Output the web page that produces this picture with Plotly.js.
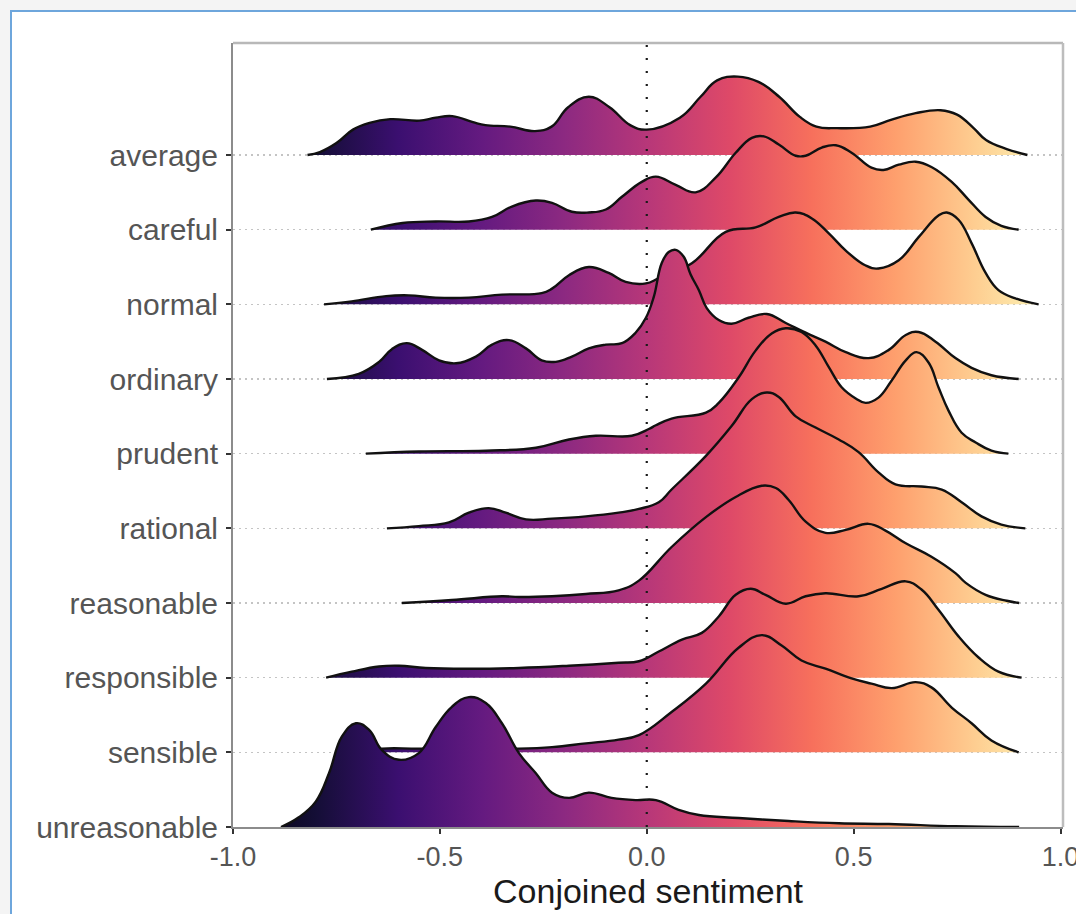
<!DOCTYPE html>
<html>
<head>
<meta charset="utf-8">
<script src="https://cdn.plot.ly/plotly-3.0.1.min.js"></script>
<style>
  html, body { margin: 0; padding: 0; background: #f4f4f4; width: 1076px; height: 914px; overflow: hidden; }
  #frame { position: absolute; left: 10px; top: 10px; width: 1064px; height: 902px;
           border-left: 2px solid #6ea6dc; border-top: 2px solid #6ea6dc; background: #ffffff; overflow: hidden; }
  #chart { width: 1064px; height: 902px; }
</style>
</head>
<body>
<div id="frame"><div id="chart"></div></div>
<script>
// Categories, top to bottom
const categories = ['average','careful','normal','ordinary','prudent','rational','reasonable','responsible','sensible','unreasonable'];

// Ridge density heights (in ridge-row units) at x positions
const averageX = [-0.82,-0.79,-0.75,-0.71,-0.67,-0.62,-0.55,-0.51,-0.47,-0.42,-0.39,-0.33,-0.27,-0.23,-0.19,-0.14,-0.09,-0.04,0.00,0.08,0.13,0.17,0.22,0.27,0.32,0.37,0.41,0.46,0.54,0.59,0.65,0.71,0.75,0.79,0.82,0.87,0.92];
const averageH = [0,0.04,0.16,0.34,0.43,0.48,0.46,0.50,0.52,0.44,0.40,0.38,0.32,0.38,0.64,0.78,0.64,0.40,0.34,0.50,0.78,1.00,1.05,0.98,0.78,0.51,0.38,0.36,0.38,0.47,0.56,0.60,0.54,0.36,0.20,0.08,0];

const carefulX = [-0.667,-0.59,-0.51,-0.43,-0.374,-0.326,-0.268,-0.229,-0.181,-0.14,-0.099,-0.06,-0.012,0.022,0.07,0.118,0.167,0.215,0.254,0.283,0.319,0.36,0.384,0.423,0.457,0.495,0.543,0.572,0.609,0.65,0.688,0.737,0.778,0.819,0.857,0.899];
const carefulH = [0,0.09,0.11,0.11,0.17,0.31,0.39,0.36,0.24,0.23,0.27,0.44,0.64,0.71,0.60,0.50,0.70,1.03,1.23,1.25,1.14,0.99,0.99,1.10,1.13,1.03,0.83,0.80,0.87,0.91,0.84,0.64,0.40,0.17,0.05,0];

const normalX = [-0.78,-0.713,-0.63,-0.575,-0.51,-0.43,-0.35,-0.254,-0.229,-0.188,-0.14,-0.092,-0.051,-0.002,0.029,0.109,0.191,0.263,0.319,0.36,0.399,0.44,0.481,0.529,0.56,0.609,0.657,0.705,0.725,0.754,0.785,0.819,0.85,0.891,0.947];
const normalH = [0,0.04,0.11,0.12,0.09,0.09,0.13,0.15,0.21,0.39,0.50,0.42,0.30,0.28,0.35,0.55,0.97,1.03,1.17,1.23,1.15,0.95,0.72,0.52,0.48,0.59,0.90,1.19,1.23,1.13,0.82,0.42,0.19,0.08,0];

const ordinaryX = [-0.773,-0.696,-0.647,-0.616,-0.58,-0.543,-0.502,-0.461,-0.413,-0.374,-0.333,-0.292,-0.254,-0.22,-0.181,-0.14,-0.099,-0.06,-0.027,-0.002,0.017,0.036,0.053,0.07,0.089,0.106,0.126,0.145,0.174,0.205,0.246,0.29,0.336,0.384,0.432,0.481,0.536,0.585,0.626,0.657,0.698,0.746,0.785,0.833,0.899];
const ordinaryH = [0,0.07,0.23,0.40,0.48,0.39,0.25,0.21,0.30,0.46,0.52,0.41,0.25,0.23,0.30,0.41,0.46,0.48,0.62,0.82,1.10,1.55,1.70,1.73,1.64,1.40,1.19,0.95,0.79,0.74,0.82,0.87,0.75,0.62,0.50,0.36,0.28,0.39,0.59,0.63,0.50,0.28,0.15,0.05,0];

const prudentX = [-0.679,-0.551,-0.389,-0.268,-0.188,-0.123,-0.036,0.005,0.022,0.06,0.143,0.174,0.222,0.263,0.302,0.336,0.374,0.408,0.44,0.471,0.505,0.529,0.56,0.592,0.626,0.652,0.681,0.705,0.729,0.761,0.795,0.833,0.874];
const prudentH = [0,0.03,0.04,0.08,0.19,0.24,0.24,0.33,0.38,0.47,0.55,0.68,1.02,1.38,1.61,1.68,1.63,1.45,1.16,0.89,0.74,0.68,0.75,0.98,1.25,1.36,1.22,0.89,0.58,0.28,0.15,0.04,0];

const rationalX = [-0.628,-0.551,-0.478,-0.43,-0.382,-0.341,-0.292,-0.229,-0.147,-0.068,-0.019,0.029,0.06,0.143,0.205,0.254,0.29,0.319,0.36,0.408,0.464,0.512,0.56,0.601,0.664,0.713,0.761,0.809,0.857,0.915];
const rationalH = [0,0.03,0.08,0.21,0.27,0.21,0.12,0.13,0.16,0.21,0.26,0.35,0.52,0.97,1.37,1.73,1.82,1.76,1.50,1.35,1.19,1.02,0.75,0.59,0.56,0.52,0.35,0.16,0.05,0];

const reasonableX = [-0.592,-0.471,-0.35,-0.309,-0.229,-0.147,-0.068,-0.019,0.06,0.143,0.215,0.278,0.312,0.343,0.384,0.432,0.481,0.536,0.577,0.626,0.688,0.746,0.771,0.819,0.87,0.90];
const reasonableH = [0,0.04,0.09,0.08,0.09,0.12,0.17,0.30,0.75,1.15,1.42,1.57,1.54,1.38,1.09,0.94,0.98,1.06,0.97,0.80,0.62,0.40,0.27,0.11,0.03,0];

const responsibleX = [-0.775,-0.713,-0.647,-0.599,-0.534,-0.43,-0.309,-0.188,-0.068,-0.019,0.029,0.085,0.133,0.174,0.215,0.251,0.287,0.336,0.384,0.432,0.512,0.568,0.626,0.664,0.705,0.754,0.802,0.85,0.906];
const responsibleH = [0,0.08,0.15,0.16,0.13,0.12,0.13,0.16,0.20,0.22,0.35,0.51,0.60,0.82,1.11,1.19,1.11,0.99,1.09,1.13,1.09,1.19,1.29,1.18,0.91,0.55,0.27,0.08,0];

const sensibleX = [-0.70,-0.64,-0.551,-0.309,-0.229,-0.147,-0.068,-0.019,0.06,0.143,0.222,0.278,0.326,0.374,0.432,0.495,0.543,0.592,0.65,0.688,0.737,0.785,0.833,0.899];
const sensibleH = [0,0.05,0.05,0.05,0.07,0.12,0.17,0.23,0.54,0.92,1.40,1.57,1.43,1.23,1.12,0.99,0.92,0.86,0.94,0.87,0.60,0.39,0.16,0];

const unreasonableX = [-0.884,-0.841,-0.80,-0.768,-0.737,-0.703,-0.671,-0.64,-0.599,-0.551,-0.51,-0.471,-0.43,-0.389,-0.35,-0.309,-0.268,-0.229,-0.188,-0.14,-0.085,-0.027,0.022,0.077,0.126,0.222,0.343,0.464,0.585,0.746,0.90];
const unreasonableH = [0,0.13,0.34,0.72,1.21,1.39,1.30,1.03,0.90,0.99,1.34,1.61,1.74,1.66,1.39,0.99,0.72,0.46,0.39,0.46,0.39,0.36,0.36,0.23,0.16,0.12,0.08,0.05,0.04,0.01,0];

const xTickVals = [-1, -0.5, 0, 0.5, 1];
const xTickText = ['-1.0', '-0.5', '0.0', '0.5', '1.0'];

const ridgeX = [averageX, carefulX, normalX, ordinaryX, prudentX, rationalX, reasonableX, responsibleX, sensibleX, unreasonableX];
const ridgeH = [averageH, carefulH, normalH, ordinaryH, prudentH, rationalH, reasonableH, responsibleH, sensibleH, unreasonableH];

const magma = [
  [0.0, '#000004'], [0.1, '#140E36'], [0.2, '#3B0F70'], [0.3, '#641A80'],
  [0.4, '#8C2981'], [0.5, '#B73779'], [0.6, '#DE4968'], [0.7, '#F7705C'],
  [0.8, '#FE9F6D'], [0.9, '#FECF92'], [1.0, '#FCFDBF']
];

const n = categories.length;
const traces = categories.map((cat, i) => {
  const base = n - 1 - i;
  return {
    type: 'scatter',
    mode: 'lines',
    name: cat,
    x: ridgeX[i],
    y: ridgeH[i].map(h => base + h),
    fill: 'toself',
    fillgradient: { type: 'horizontal', colorscale: magma, start: -1.0, stop: 1.0 },
    line: { color: '#111111', width: 2.4, shape: 'spline', smoothing: 1.2 },
    hoverinfo: 'skip',
    showlegend: false
  };
});

const layout = {
  width: 1064, height: 902,
  margin: { l: 221, r: 13, t: 31, b: 87 },
  paper_bgcolor: '#ffffff',
  plot_bgcolor: '#ffffff',
  font: { family: 'Liberation Sans, Arial, sans-serif' },
  xaxis: {
    range: [-1, 1.006],
    tickvals: xTickVals, ticktext: xTickText,
    ticks: 'outside', ticklen: 5, tickwidth: 2, tickcolor: '#333333',
    tickfont: { size: 27, color: '#555555' },
    ticklabeloverflow: 'allow',
    showgrid: false, zeroline: false,
    showline: true, linecolor: '#8c8c8c', linewidth: 2,
    title: { text: 'Conjoined sentiment', font: { size: 34, color: '#1a1a1a' }, standoff: 4 },
    fixedrange: true
  },
  yaxis: {
    range: [0, 10.5],
    tickvals: categories.map((c, i) => n - 1 - i),
    ticktext: categories,
    ticks: 'outside', ticklen: 5, tickwidth: 2, tickcolor: '#333333',
    tickfont: { size: 30, color: '#555555' },
    ticklabelstandoff: 2,
    showgrid: true, gridcolor: '#c4c4c4', gridwidth: 1.5, griddash: '2px,4px',
    zeroline: false,
    showline: true, linecolor: '#8c8c8c', linewidth: 2,
    fixedrange: true
  },
  shapes: [
    { type: 'line', xref: 'x', yref: 'paper', x0: 0, x1: 0, y0: 0, y1: 1, layer: 'above',
      line: { color: '#1a1a1a', width: 2.2, dash: '2px,11px' } },
    { type: 'line', xref: 'paper', yref: 'paper', x0: 0, x1: 1, y0: 1, y1: 1, layer: 'above',
      line: { color: '#b8b8b8', width: 2.5 } },
    { type: 'line', xref: 'paper', yref: 'paper', x0: 1, x1: 1, y0: 0, y1: 1, layer: 'above',
      line: { color: '#bdbdbd', width: 2.5 } }
  ],
  showlegend: false
};

Plotly.newPlot('chart', traces, layout, { displayModeBar: false, staticPlot: true });
</script>
</body>
</html>
